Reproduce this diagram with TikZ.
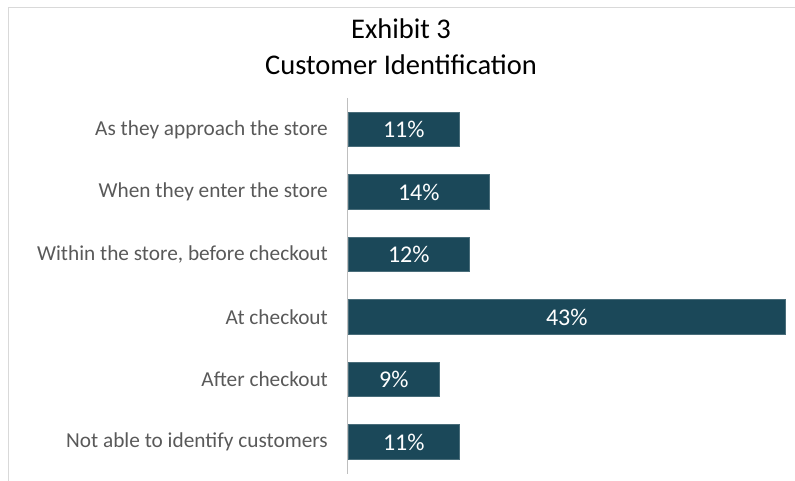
\documentclass[tikz,border=0pt]{standalone}
\usepackage{fontspec}
\setmainfont{Carlito}
\usetikzlibrary{positioning}
\definecolor{barteal}{HTML}{1B4859}
\definecolor{labelgray}{HTML}{595959}
\definecolor{framegray}{HTML}{D9D9D9}
\definecolor{axisgray}{HTML}{BFBFBF}

\tikzset{
	bar/.style={fill=barteal,draw=barteal!80!white,line width=0.6pt,inner sep=0pt,minimum height=34.5pt,anchor=west,text=white,font=\fontsize{24}{26}\selectfont},
	catlabel/.style={text=labelgray,inner sep=0pt,anchor=east,font=\fontsize{21.3}{24}\selectfont},
	charttitle/.style={align=center,inner sep=0pt,font=\fontsize{28.5}{36}\selectfont},
}

\begin{document}
\begin{tikzpicture}[x=1pt,y=-1pt]
		\useasboundingbox (0,0) rectangle (795,481);
		%frame
		\draw[framegray,line width=1.5pt] (8.5,481) -- (8.5,7.5) -- (795,7.5);
		%title
		\node[charttitle] (title) at (401,47) {Exhibit 3\\Customer Identification};
		%axis
		\coordinate (axtop) at (347.5,98);
		\coordinate (axbot) at (347.5,474);
		\draw[axisgray,line width=1.2pt] (axtop) -- (axbot);
		%bars
		\node[bar,minimum width=111pt] (approach) at (348,129.5) {11\%};
		\node[bar,minimum width=141pt] (enter) at (348,192) {14\%};
		\node[bar,minimum width=121pt] (within) at (348,254.5) {12\%};
		\node[bar,minimum width=437pt] (checkout) at (348,317) {43\%};
		\node[bar,minimum width=91pt] (after) at (348,379.5) {9\%};
		\node[bar,minimum width=111pt] (notable) at (348,442) {11\%};
		%labels
		\node[catlabel,left=20pt of approach] (lapproach) {As they approach the store};
		\node[catlabel,left=20pt of enter] (lenter) {When they enter the store};
		\node[catlabel,left=20pt of within] (lwithin) {Within the store, before checkout};
		\node[catlabel,left=20pt of checkout] (lcheckout) {At checkout};
		\node[catlabel,left=20pt of after] (lafter) {After checkout};
		\node[catlabel,left=20pt of notable] (lnotable) {Not able to identify customers};
	\end{tikzpicture}
\end{document}
